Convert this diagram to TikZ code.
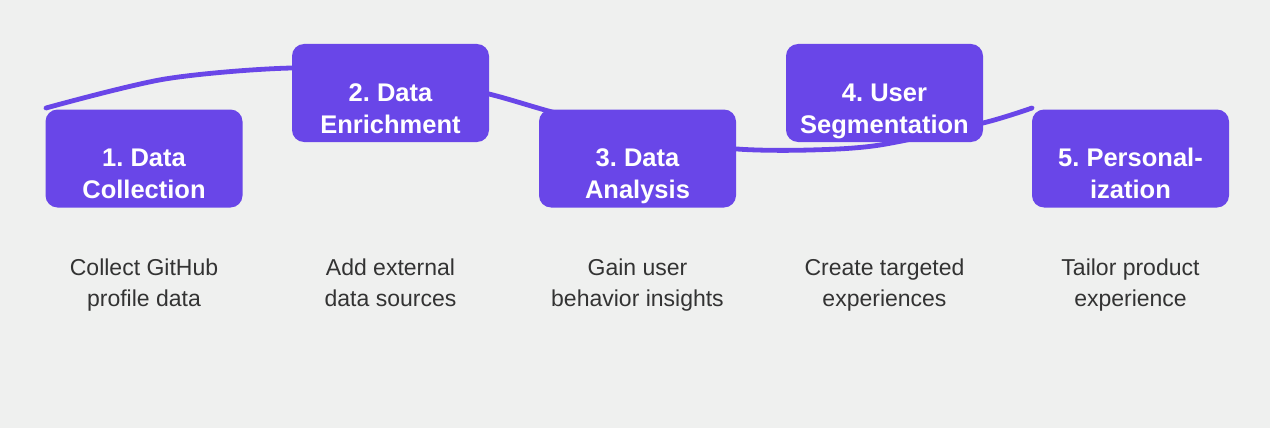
\documentclass[tikz,border=0pt]{standalone}
\usepackage{fontspec}
\setmainfont{Liberation Sans}
\definecolor{bg}{RGB}{239,240,239}
\definecolor{purp}{RGB}{105,70,232}
\definecolor{desctext}{RGB}{51,51,51}
\frenchspacing
\begin{document}
\begin{tikzpicture}[x=1pt,y=-1pt,
  stepbox/.style={fill=purp, draw=none, rounded corners=12pt, minimum width=197pt, minimum height=98pt,
    inner sep=0pt, align=center, text=white, font=\bfseries\fontsize{25.5}{32}\selectfont,
    text height=80pt, text depth=0pt},
  desc/.style={anchor=north, inner sep=0pt, align=center, text=desctext, font=\fontsize{23}{31}\selectfont},
  curve/.style={draw=purp, line width=4.8pt, line cap=round}]
\fill[bg] (0,0) rectangle (1270,428);
\useasboundingbox (0,0) rectangle (1270,428);
% path coordinates
\coordinate (p1) at (46,108);
\coordinate (p2) at (165,79);
\coordinate (p3) at (292,68);
\coordinate (p4) at (400,74);
\coordinate (p5) at (489,94);
\coordinate (p6) at (552,112);
\coordinate (p7) at (650,138);
\coordinate (p8) at (737,149);
\coordinate (p9) at (810,150);
\coordinate (p10) at (880,145);
\coordinate (p11) at (983,123);
\coordinate (p12) at (1032,108);
\draw[curve] plot[smooth, tension=0.5] coordinates {(p1) (p2) (p3) (p4) (p5) (p6) (p7) (p8) (p9) (p10) (p11) (p12)};
% boxes
\node[stepbox] (b1) at (144,158.5) {1. Data\\Collection};
\node[stepbox] (b2) at (390.5,93) {2. Data\\Enrichment};
\node[stepbox] (b3) at (637.5,158.5) {3. Data\\Analysis};
\node[stepbox] (b4) at (884.5,93) {4. User\\Segmentation};
\node[stepbox] (b5) at (1130.5,158.5) {5. Personal-\\ization};
% descriptions
\node[desc] (d1) at (144,259) {Collect GitHub\\profile data};
\node[desc] (d2) at (390.5,259) {Add external\\data sources};
\node[desc] (d3) at (637.5,259) {Gain user\\behavior insights};
\node[desc] (d4) at (884.5,259) {Create targeted\\experiences};
\node[desc] (d5) at (1130.5,259) {Tailor product\\experience};
\end{tikzpicture}
\end{document}
